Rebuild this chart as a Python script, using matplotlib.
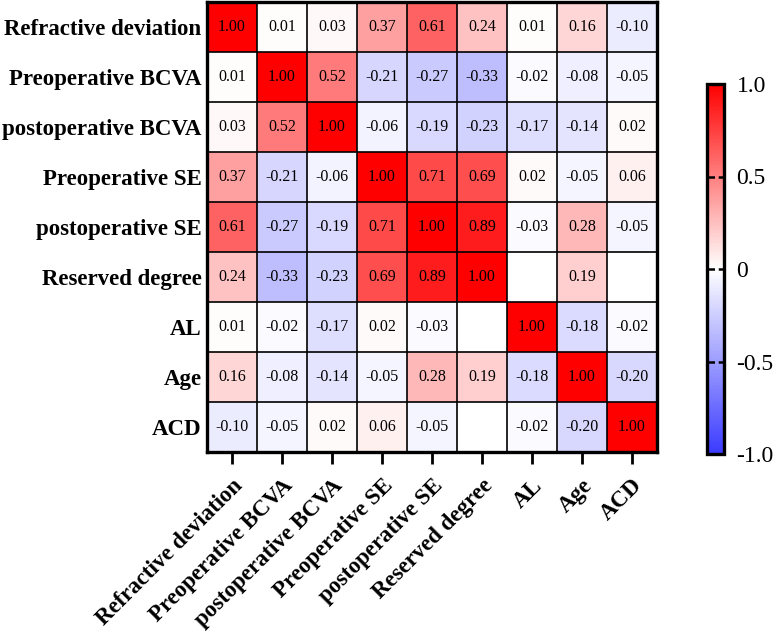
import numpy as np
import matplotlib
matplotlib.use("Agg")
import matplotlib.pyplot as plt
from matplotlib.colors import LinearSegmentedColormap

labels = ["Refractive deviation", "Preoperative BCVA", "postoperative BCVA",
          "Preoperative SE", "postoperative SE", "Reserved degree", "AL", "Age", "ACD"]
nan = np.nan
r_refdev = [1.00, 0.01, 0.03, 0.37, 0.61, 0.24, 0.01, 0.16, -0.10]
r_prebcva = [0.01, 1.00, 0.52, -0.21, -0.27, -0.33, -0.02, -0.08, -0.05]
r_postbcva = [0.03, 0.52, 1.00, -0.06, -0.19, -0.23, -0.17, -0.14, 0.02]
r_prese = [0.37, -0.21, -0.06, 1.00, 0.71, 0.69, 0.02, -0.05, 0.06]
r_postse = [0.61, -0.27, -0.19, 0.71, 1.00, 0.89, -0.03, 0.28, -0.05]
r_reserved = [0.24, -0.33, -0.23, 0.69, 0.89, 1.00, nan, 0.19, nan]
r_al = [0.01, -0.02, -0.17, 0.02, -0.03, nan, 1.00, -0.18, -0.02]
r_age = [0.16, -0.08, -0.14, -0.05, 0.28, 0.19, -0.18, 1.00, -0.20]
r_acd = [-0.10, -0.05, 0.02, 0.06, -0.05, nan, -0.02, -0.20, 1.00]
cbar_ticks = [-1.0, -0.5, 0, 0.5, 1.0]
cbar_ticklabels = ["-1.0", "-0.5", "0", "0.5", "1.0"]

data = np.array([r_refdev, r_prebcva, r_postbcva, r_prese, r_postse,
                 r_reserved, r_al, r_age, r_acd])
n = len(labels)

plt.rcParams['font.family'] = ['Liberation Serif', 'DejaVu Serif']

cmap = LinearSegmentedColormap.from_list("bwr2", [(0.23, 0.23, 1.0), (1, 1, 1), (1, 0, 0)])
cmap.set_bad("white")

fig = plt.figure(figsize=(7.76, 6.32), dpi=100)
ax = fig.add_axes([207/776, 1 - 452/632, 450/776, 450/632])
m = np.ma.masked_invalid(data)
mesh = ax.pcolormesh(np.arange(n + 1), np.arange(n + 1), m, cmap=cmap, vmin=-1, vmax=1)
ax.set_xlim(0, n)
ax.set_ylim(n, 0)
for k in range(1, n):
    ax.axhline(k, color="black", lw=1.2)
    ax.axvline(k, color="black", lw=1.2)
for i in range(n):
    for j in range(n):
        v = data[i, j]
        if not np.isnan(v):
            ax.text(j + 0.5, i + 0.5, f"{v:.2f}", ha="center", va="center", fontsize=11.5, color="black")
for s in ax.spines.values():
    s.set_linewidth(2.4)
ax.set_xticks(np.arange(n) + 0.5)
ax.set_yticks(np.arange(n) + 0.5)
ax.set_xticklabels(labels, rotation=45, ha="right", rotation_mode="anchor",
                   fontsize=16.5, fontweight="bold")
ax.set_yticklabels(labels, fontsize=16.5, fontweight="bold")
ax.tick_params(axis="x", length=8.5, width=2, pad=8)
ax.tick_params(axis="y", length=0, pad=4)

cax = fig.add_axes([707/776, 1 - 454/632, 17/776, 370/632])
cb = fig.colorbar(mesh, cax=cax, ticks=cbar_ticks)
cb.set_ticklabels(cbar_ticklabels)
cb.outline.set_linewidth(2.4)
cax.tick_params(length=0, pad=9, labelsize=17)
for t in [-0.5, 0, 0.5]:
    cax.axhline(t, color="black", lw=1.8, ls=(0, (3, 1.5)))

fig.savefig("out.png", dpi=100)
